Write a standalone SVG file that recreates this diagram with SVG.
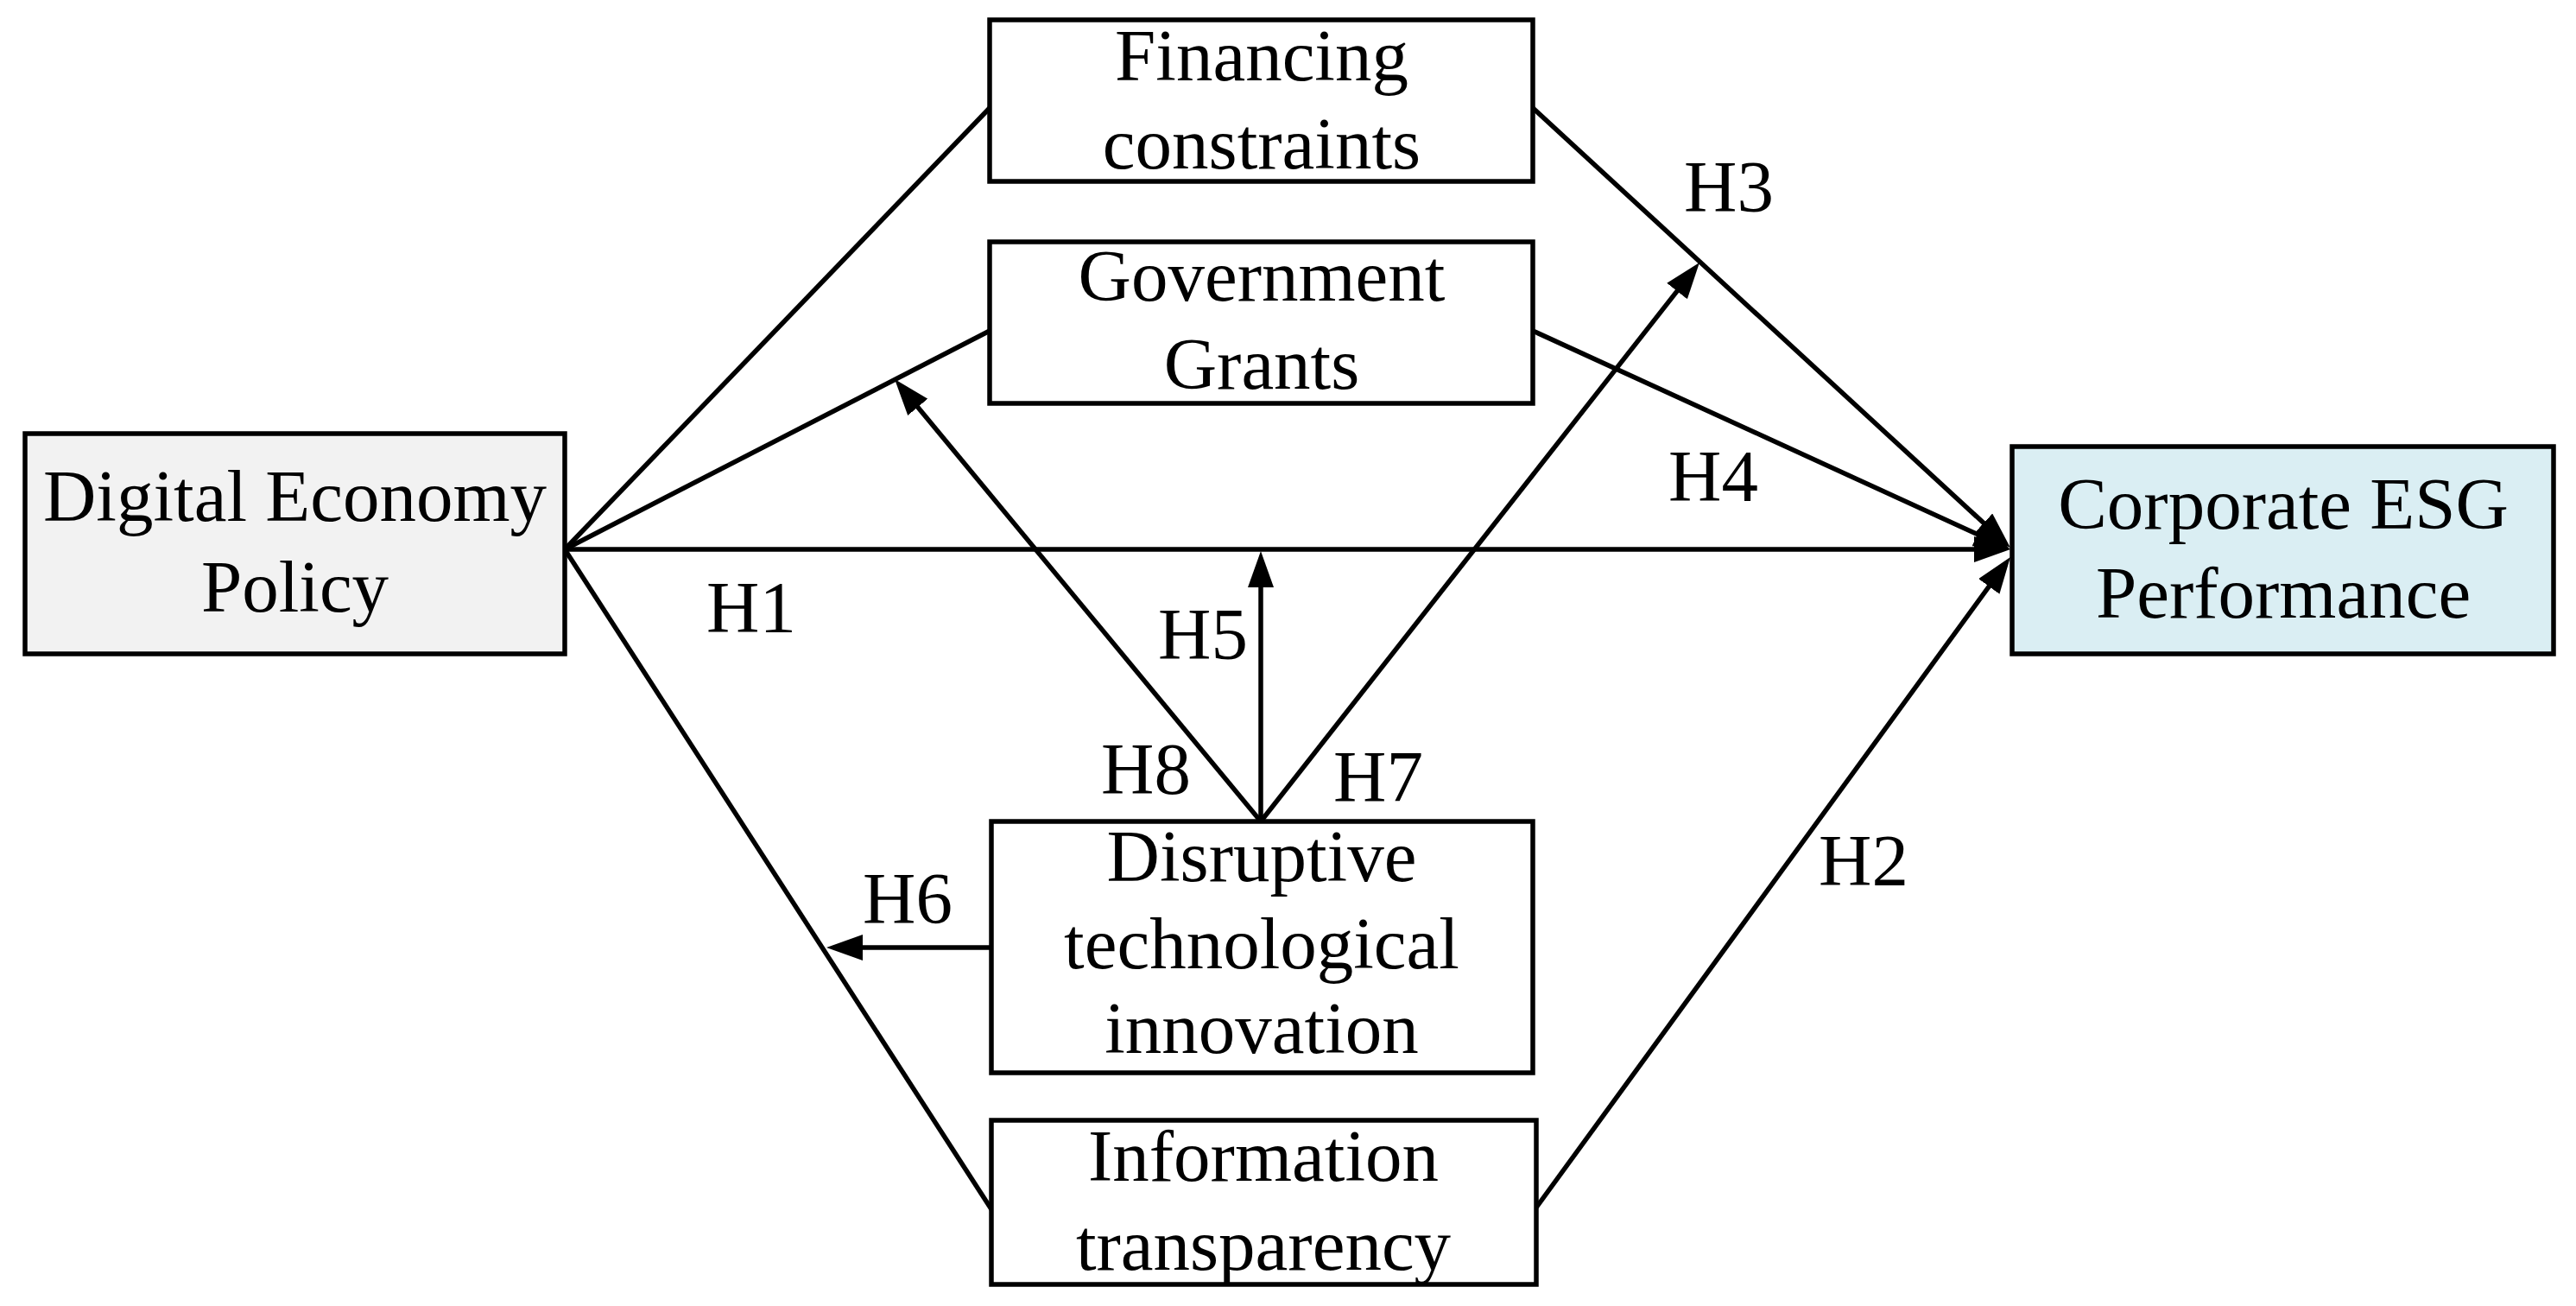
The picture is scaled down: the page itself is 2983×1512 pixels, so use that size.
<svg xmlns="http://www.w3.org/2000/svg" width="2983" height="1512" viewBox="0 0 2983 1512">
<defs>
<style>
.box{stroke:#000;stroke-width:5.5;}
.plain{fill:#fff;}
.t{font-family:"Liberation Serif","Times New Roman",serif;font-size:85px;fill:#000;text-anchor:middle;}
.c{stroke:#000;stroke-width:5.5;fill:none;}
.a{marker-end:url(#ah);}
</style>
<marker id="ah" viewBox="0 0 42 30" refX="32" refY="15" markerWidth="42" markerHeight="30" markerUnits="userSpaceOnUse" orient="auto">
<path d="M0,0 L42,15 L0,30 z" fill="#000"/>
</marker>
</defs>
<rect width="2983" height="1512" fill="#fff"/>
<g id="connectors">
<line class="c" x1="654" y1="636" x2="1146" y2="125"/>
<line class="c" x1="654" y1="636" x2="1146" y2="383"/>
<line class="c" x1="654" y1="636" x2="1148" y2="1400"/>
<line class="c a" x1="654" y1="636" x2="2318" y2="636"/>
<line class="c a" x1="1775" y1="125" x2="2320.6" y2="627.2"/>
<line class="c a" x1="1775" y1="383" x2="2318.9" y2="631.8"/>
<line class="c a" x1="1779" y1="1398" x2="2322.1" y2="653.1"/>
<line class="c a" x1="1460" y1="951" x2="1961.8" y2="311.9"/>
<line class="c a" x1="1460" y1="951" x2="1042.4" y2="446.7"/>
<line class="c a" x1="1460" y1="951" x2="1460" y2="648"/>
<line class="c a" x1="1148" y1="1097" x2="967" y2="1097"/>
</g>
<g id="labels">
<text class="t" x="870" y="732">H1</text>
<text class="t" x="2002" y="245">H3</text>
<text class="t" x="1984" y="580">H4</text>
<text class="t" x="2158" y="1025">H2</text>
<text class="t" x="1393" y="763">H5</text>
<text class="t" x="1327" y="919">H8</text>
<text class="t" x="1596" y="928">H7</text>
<text class="t" x="1051" y="1069">H6</text>
</g>
<g id="node-dep">
<rect class="box" x="29" y="502" width="625" height="255" fill="#f2f2f2"/>
<text class="t" x="341.5" y="603">Digital Economy</text>
<text class="t" x="341.5" y="708">Policy</text>
</g>
<g id="node-financing">
<rect class="box plain" x="1146" y="23" width="629" height="187"/>
<text class="t" x="1461" y="93">Financing</text>
<text class="t" x="1461" y="195">constraints</text>
</g>
<g id="node-government">
<rect class="box plain" x="1146" y="280" width="629" height="187"/>
<text class="t" x="1461" y="348">Government</text>
<text class="t" x="1461" y="450">Grants</text>
</g>
<g id="node-esg">
<rect class="box" x="2330" y="517" width="627" height="240" fill="#daeef3"/>
<text class="t" x="2644" y="612">Corporate ESG</text>
<text class="t" x="2644" y="715">Performance</text>
</g>
<g id="node-disruptive">
<rect class="box plain" x="1148" y="951" width="627" height="291"/>
<text class="t" x="1461" y="1020">Disruptive</text>
<text class="t" x="1461" y="1121">technological</text>
<text class="t" x="1461" y="1219">innovation</text>
</g>
<g id="node-information">
<rect class="box plain" x="1148" y="1297" width="631" height="190"/>
<text class="t" x="1463" y="1367">Information</text>
<text class="t" x="1463" y="1470">transparency</text>
</g>
</svg>
